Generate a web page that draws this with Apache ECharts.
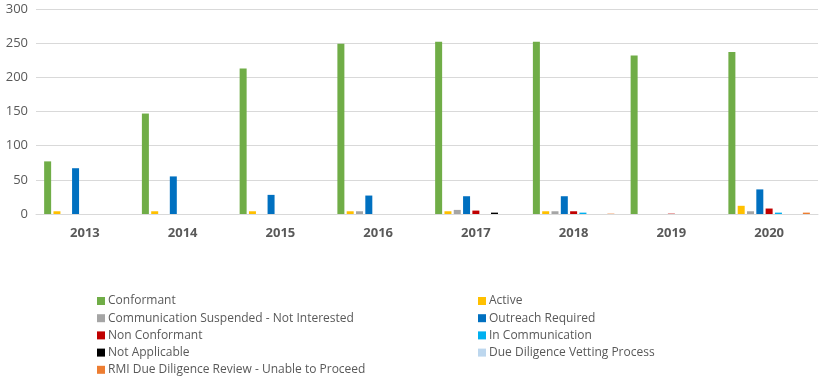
<!DOCTYPE html>
<html>
<head>
<meta charset="utf-8">
<script src="https://cdn.jsdelivr.net/npm/echarts@6/dist/echarts.min.js"></script>
<style>html,body{margin:0;padding:0;background:#fff}#c{width:820px;height:378px}</style>
</head>
<body>
<div id="c"></div>
<script>
const categories = ['2013','2014','2015','2016','2017','2018','2019','2020'];
const seriesNames = ['Conformant','Active','Communication Suspended - Not Interested','Outreach Required','Non Conformant','In Communication','Not Applicable','Due Diligence Vetting Process','RMI Due Diligence Review - Unable to Proceed'];
const conformant   = [77, 147, 213, 249, 252, 252, 232, 237];
const active       = [4, 4, 4, 4, 4, 4, 0, 12];
const commSusp     = [0, 0, 0, 4, 6, 4, 0, 4];
const outreach     = [67, 55, 28, 27, 26, 26, 0, 36];
const nonConf      = [0, 0, 0, 0, 5, 4, 0.5, 8];
const inComm       = [0, 0, 0, 0, 0, 2, 0, 2];
const notApp       = [0, 0, 0, 0, 2, 0, 0, 0];
const dueDil       = [0, 0, 0, 0, 0, 0, 0, 0];
const rmi          = [0, 0, 0, 0, 0, 0.5, 0, 2];
const seriesData = [conformant, active, commSusp, outreach, nonConf, inComm, notApp, dueDil, rmi];
const colors = ['#70AD47','#FFC000','#A5A5A5','#0070C0','#C00000','#00B0F0','#000000','#BDD7EE','#ED7D31'];
const yTicks = {min: 0, max: 300, interval: 50};

const chart = echarts.init(document.getElementById('c'));
const font = '"Open Sans", "Noto Sans", sans-serif';
const legendCommon = {
  orient: 'vertical', itemWidth: 8, itemHeight: 8, itemGap: 1.2, icon: 'rect', height: 200,
  textStyle: {color: '#595959', fontSize: 12, lineHeight: 16, fontFamily: font, padding: [0,0,0,-2]},
  selectedMode: false
};
chart.setOption({
  animation: false,
  color: colors,
  grid: {left: 36, right: 2, top: 9, bottom: 164},
  legend: [
    Object.assign({left: 92, top: 288, data: [seriesNames[0], seriesNames[2], seriesNames[4], seriesNames[6], seriesNames[8]]}, legendCommon),
    Object.assign({left: 473, top: 288, data: [seriesNames[1], seriesNames[3], seriesNames[5], seriesNames[7]]}, legendCommon)
  ],
  xAxis: {
    type: 'category', data: categories,
    axisLine: {lineStyle: {color: '#D9D9D9', width: 1}},
    axisTick: {show: false},
    axisLabel: {color: '#595959', fontSize: 13, fontWeight: 'bold', fontFamily: font, margin: 13}
  },
  yAxis: {
    type: 'value', min: yTicks.min, max: yTicks.max, interval: yTicks.interval,
    axisLine: {show: false}, axisTick: {show: false},
    splitLine: {lineStyle: {color: '#D9D9D9', width: 1}},
    axisLabel: {color: '#595959', fontSize: 13, fontFamily: font, margin: 8}
  },
  series: seriesNames.map((n, i) => ({
    name: n, type: 'bar', data: seriesData[i], barWidth: 7, barGap: '33%'
  }))
});
</script>
</body>
</html>
